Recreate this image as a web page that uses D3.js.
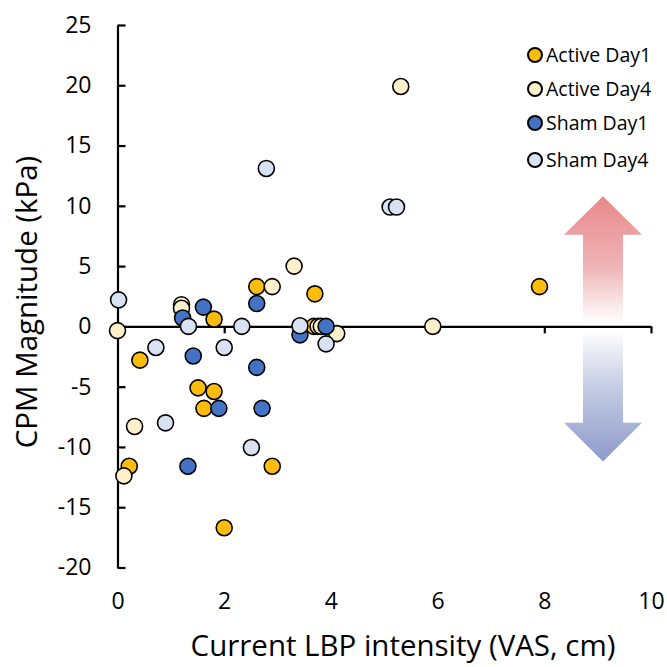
<!DOCTYPE html>
<html>
<head>
<meta charset="utf-8">
<script src="https://cdn.jsdelivr.net/npm/d3@7"></script>
<style>
  body { margin: 0; background: #fff; }
  text { font-family: "Open Sans", sans-serif; fill: #000; }
</style>
</head>
<body>
<div id="chart"></div>
<script>
// series names and colours
var seriesNames = ['Active Day1', 'Active Day4', 'Sham Day1', 'Sham Day4'];
var seriesColors = ['#fbbc0c', '#fdf0cb', '#4472c4', '#d9e2f3'];

// points: [VAS, CPM]
var activeDay1 = [[2.61, 3.3], [3.70, 2.7], [1.81, 0.6], [3.68, 0.0], [7.91, 3.3], [0.42, -2.8],
  [1.51, -5.1], [1.81, -5.4], [1.62, -6.8], [0.22, -11.6], [2.90, -11.6], [2.00, -16.7]];
var activeDay4 = [[0.0, -0.35], [1.20, 1.8], [1.20, 1.5], [2.90, 3.3], [3.31, 5.0], [3.76, 0.0],
  [3.82, 0.0], [4.11, -0.6], [5.31, 19.9], [5.91, 0.0], [0.32, -8.3], [0.12, -12.4]];
var shamDay1 = [[2.61, 1.9], [1.22, 0.7], [1.61, 1.6], [3.42, -0.7], [3.91, 0.0], [1.42, -2.45],
  [2.61, -3.4], [1.90, -6.8], [2.71, -6.8], [1.32, -11.6]];
var shamDay4 = [[2.79, 13.1], [0.02, 2.2], [1.33, 0.0], [2.33, 0.0], [3.42, 0.05], [3.91, -1.45],
  [5.11, 9.9], [5.23, 9.9], [0.72, -1.75], [2.00, -1.75], [0.90, -8.0], [2.51, -10.05]];

var xTicks = [0, 2, 4, 6, 8, 10];
var yTicks = [-20, -15, -10, -5, 0, 5, 10, 15, 20, 25];

var allSeries = [activeDay1, activeDay4, shamDay1, shamDay4];

var W = 667, H = 667;
var svg = d3.select('#chart').append('svg')
  .attr('width', W)
  .attr('height', H);

var x = d3.scaleLinear().domain([0, 10]).range([117.5, 651]);
var y = d3.scaleLinear().domain([-20, 25]).range([567.5, 25]);

// plain hyphen minus like the original
var numFmt = function (d) { return String(d); };

//scale a text's font so it spans the wanted width
function fitWidth(sel, target) {
  var w = sel.node().getComputedTextLength();
  var fs = parseFloat(sel.style('font-size'));
  sel.style('font-size', (fs * target / w) + 'px');
}

//gradients for the two arrows
var defs = svg.append('defs');
var gUp = defs.append('linearGradient').attr('id', 'gradUp')
  .attr('x1', 0).attr('y1', 0).attr('x2', 0).attr('y2', 1);
gUp.append('stop').attr('offset', '0%').attr('stop-color', '#e8888b');
gUp.append('stop').attr('offset', '55%').attr('stop-color', '#efb3b5');
gUp.append('stop').attr('offset', '100%').attr('stop-color', '#ffffff');
var gDown = defs.append('linearGradient').attr('id', 'gradDown')
  .attr('x1', 0).attr('y1', 0).attr('x2', 0).attr('y2', 1);
gDown.append('stop').attr('offset', '0%').attr('stop-color', '#ffffff');
gDown.append('stop').attr('offset', '45%').attr('stop-color', '#c3cae3');
gDown.append('stop').attr('offset', '100%').attr('stop-color', '#8d9bca');

//arrow shapes built from data-space anchors
function arrowPath(cx, tip, headBase, shaftEnd) {
  var c = x(cx), hw = x(cx + 0.73) - c, sw = x(cx + 0.375) - c;
  return 'M' + c + ',' + y(tip) +
    'L' + (c + hw) + ',' + y(headBase) +
    'L' + (c + sw) + ',' + y(headBase) +
    'L' + (c + sw) + ',' + y(shaftEnd) +
    'L' + (c - sw) + ',' + y(shaftEnd) +
    'L' + (c - sw) + ',' + y(headBase) +
    'L' + (c - hw) + ',' + y(headBase) + 'Z';
}
svg.append('path').attr('d', arrowPath(9.1, 10.8, 7.6, 0.3)).attr('fill', 'url(#gradUp)');
svg.append('path').attr('d', arrowPath(9.1, -11.2, -8.0, -0.3)).attr('fill', 'url(#gradDown)');

// y axis with inside ticks
var yAxis = svg.append('g')
  .attr('transform', 'translate(' + x(0) + ',0)')
  .call(d3.axisLeft(y).tickValues(yTicks).tickFormat(numFmt)
    .tickSizeInner(-8).tickSizeOuter(0).tickPadding(26));

// x axis along y = 0
var xAxis = svg.append('g')
  .attr('transform', 'translate(0,' + y(0) + ')')
  .call(d3.axisBottom(x).tickValues(xTicks.slice(1)).tickSize(7).tickSizeOuter(0).tickFormat(''));

svg.selectAll('.domain, .tick line')
  .attr('stroke', '#000')
  .attr('stroke-width', 2.2);

// x labels placed under the plot
var xLab = svg.append('g')
  .attr('transform', 'translate(0,593)')
  .call(d3.axisBottom(x).tickValues(xTicks).tickFormat(numFmt).tickSize(0).tickPadding(0));
xLab.select('.domain').remove();

svg.selectAll('.tick text')
  .style('font-family', '"Open Sans", sans-serif')
  .style('font-size', '23px')
  .attr('fill', '#000');

//points
allSeries.forEach(function (pts, i) {
  svg.append('g').selectAll('circle')
    .data(pts)
    .enter().append('circle')
    .attr('cx', function (d) { return x(d[0]); })
    .attr('cy', function (d) { return y(d[1]); })
    .attr('r', 8)
    .attr('fill', seriesColors[i])
    .attr('stroke', '#000')
    .attr('stroke-width', 1.6);
});

//legend
var legend = svg.append('g').selectAll('g')
  .data(seriesNames)
  .enter().append('g')
  .attr('transform', function (d, i) { return 'translate(535,' + [55, 89, 123, 160][i] + ')'; });
legend.append('circle')
  .attr('r', 7)
  .attr('fill', function (d, i) { return seriesColors[i]; })
  .attr('stroke', '#000')
  .attr('stroke-width', 2);
legend.append('text')
  .attr('x', 11)
  .attr('dy', '0.35em')
  .style('font-size', '19.5px')
  .text(function (d) { return d; });

// axis titles
var xTitle = svg.append('text')
  .attr('x', 403)
  .attr('y', 656)
  .attr('text-anchor', 'middle')
  .style('font-size', '24px')
  .text('Current LBP intensity (VAS, cm)');
fitWidth(xTitle, 425);

var yTitle = svg.append('text')
  .attr('transform', 'translate(37,302) rotate(-90)')
  .attr('text-anchor', 'middle')
  .style('font-size', xTitle.style('font-size'))
  .text('CPM Magnitude (kPa)');
</script>
</body>
</html>
